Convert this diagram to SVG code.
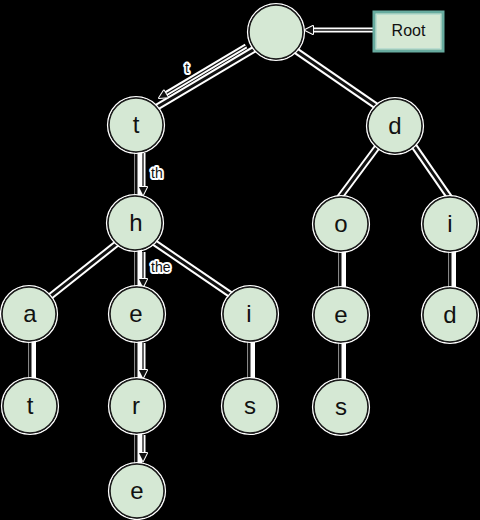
<svg xmlns="http://www.w3.org/2000/svg" width="480" height="520" viewBox="0 0 480 520">
<defs>
<style>
.halo{stroke:#ffffff;stroke-width:7;fill:none;stroke-linecap:butt}
.vhalo{stroke:#ffffff;stroke-width:8;fill:none;stroke-linecap:butt}
.ahalo{stroke:#ffffff;stroke-width:5;fill:none}
.edge{stroke:#111111;stroke-width:3;fill:none}
.arr{stroke:#111111;stroke-width:1.3;fill:none;marker-end:url(#ah)}
.ring{fill:none;stroke:#ffffff;stroke-width:1.6}
.node{fill:#d5e8d4;stroke:#1a1a1a;stroke-width:1.5}
.lbl{font-family:"Liberation Sans",Arial,sans-serif;font-size:24px;fill:#111111;text-anchor:middle}
.elbl{font-family:"Liberation Sans",Arial,sans-serif;font-size:14px;fill:#111111;stroke:#ffffff;stroke-width:4;stroke-linejoin:round;paint-order:stroke}
</style>
<marker id="ah" viewBox="-3 -3 16 16" refX="10" refY="5" markerWidth="14.4" markerHeight="12.8" markerUnits="userSpaceOnUse" orient="auto" overflow="visible">
<path d="M0,0 L10,5 L0,10 z" fill="#111111" stroke="#ffffff" stroke-width="2.5" stroke-linejoin="round" paint-order="stroke"/>
</marker>
</defs>
<rect x="0" y="0" width="480" height="520" fill="#000000"/>
<g id="connectors">
<g id="halos">
<line class="halo" x1="258" y1="47" x2="152" y2="110"/>
<line class="halo" x1="292" y1="48" x2="382" y2="110"/>
<line class="vhalo" x1="138" y1="150" x2="138" y2="198"/>
<line class="halo" x1="378" y1="146" x2="337" y2="201"/>
<line class="halo" x1="414" y1="146" x2="452" y2="201"/>
<line class="halo" x1="120" y1="241" x2="47" y2="299"/>
<line class="vhalo" x1="138" y1="248" x2="138" y2="289"/>
<line class="halo" x1="152" y1="241" x2="237" y2="299"/>
<line class="vhalo" x1="342" y1="250" x2="342" y2="290"/>
<line class="vhalo" x1="452" y1="250" x2="452" y2="290"/>
<line class="vhalo" x1="32" y1="340" x2="32" y2="381"/>
<line class="vhalo" x1="138" y1="340" x2="138" y2="381"/>
<line class="vhalo" x1="251" y1="340" x2="251" y2="381"/>
<line class="vhalo" x1="342" y1="341" x2="342" y2="382"/>
<line class="vhalo" x1="138" y1="432" x2="138" y2="466"/>
<line class="ahalo" x1="246" y1="46" x2="162" y2="96"/>
<line class="ahalo" x1="143" y1="153" x2="143" y2="191"/>
<line class="ahalo" x1="143" y1="252" x2="143" y2="283"/>
<line class="ahalo" x1="143" y1="343" x2="143" y2="374"/>
<line class="ahalo" x1="143" y1="435" x2="143" y2="457"/>
<line class="ahalo" x1="374" y1="30" x2="309" y2="30"/>
</g>
<line class="edge" x1="258" y1="47" x2="152" y2="110"/>
<line class="edge" x1="292" y1="48" x2="382" y2="110"/>
<line class="edge" x1="136" y1="150" x2="136" y2="198"/>
<line class="edge" x1="378" y1="146" x2="337" y2="201"/>
<line class="edge" x1="414" y1="146" x2="452" y2="201"/>
<line class="edge" x1="120" y1="241" x2="47" y2="299"/>
<line class="edge" x1="136" y1="248" x2="136" y2="289"/>
<line class="edge" x1="152" y1="241" x2="237" y2="299"/>
<line class="edge" x1="340" y1="250" x2="340" y2="290"/>
<line class="edge" x1="450" y1="250" x2="450" y2="290"/>
<line class="edge" x1="30" y1="340" x2="30" y2="381"/>
<line class="edge" x1="136" y1="340" x2="136" y2="381"/>
<line class="edge" x1="249" y1="340" x2="249" y2="381"/>
<line class="edge" x1="340" y1="341" x2="340" y2="382"/>
<line class="edge" x1="136" y1="432" x2="136" y2="466"/>
<line class="arr" x1="246" y1="46" x2="159" y2="98"/>
<line class="arr" x1="143" y1="153" x2="143" y2="195"/>
<line class="arr" x1="143" y1="252" x2="143" y2="287"/>
<line class="arr" x1="143" y1="343" x2="143" y2="378"/>
<line class="arr" x1="143" y1="435" x2="143" y2="461"/>
<line class="arr" x1="374" y1="30" x2="305" y2="30"/>
<text class="elbl" x="185" y="73">t</text>
<text class="elbl" x="151" y="178">th</text>
<text class="elbl" x="151" y="272">the</text>
</g>
<g id="node-root"><circle class="ring" cx="276" cy="32" r="28.3"/><circle class="node" cx="276" cy="32" r="27"/></g>
<g id="node-root-label"><rect x="374" y="12" width="69" height="39" fill="#d5e8d4" stroke="#67ab9f" stroke-width="3"/><rect x="376.5" y="14.5" width="64" height="34" fill="none" stroke="#b9dccf" stroke-width="1"/><text x="408.5" y="36" font-family="'Liberation Sans',Arial,sans-serif" font-size="16" fill="#111111" text-anchor="middle">Root</text></g>
<g id="node-t"><circle class="ring" cx="136" cy="125" r="28.3"/><circle class="node" cx="136" cy="125" r="27"/><text class="lbl" x="136" y="133">t</text></g>
<g id="node-d"><circle class="ring" cx="395" cy="126" r="28.3"/><circle class="node" cx="395" cy="126" r="27"/><text class="lbl" x="395" y="134">d</text></g>
<g id="node-th"><circle class="ring" cx="135" cy="223" r="28.3"/><circle class="node" cx="135" cy="223" r="27"/><text class="lbl" x="136" y="231">h</text></g>
<g id="node-do"><circle class="ring" cx="341" cy="224" r="28.3"/><circle class="node" cx="341" cy="224" r="27"/><text class="lbl" x="341" y="232">o</text></g>
<g id="node-di"><circle class="ring" cx="450" cy="224" r="28.3"/><circle class="node" cx="450" cy="224" r="27"/><text class="lbl" x="450" y="232">i</text></g>
<g id="node-tha"><circle class="ring" cx="29" cy="314" r="28.3"/><circle class="node" cx="29" cy="314" r="27"/><text class="lbl" x="30" y="322">a</text></g>
<g id="node-the"><circle class="ring" cx="137" cy="314" r="28.3"/><circle class="node" cx="137" cy="314" r="27"/><text class="lbl" x="136" y="322">e</text></g>
<g id="node-thi"><circle class="ring" cx="250" cy="314" r="28.3"/><circle class="node" cx="250" cy="314" r="27"/><text class="lbl" x="249" y="322">i</text></g>
<g id="node-doe"><circle class="ring" cx="341" cy="315" r="28.3"/><circle class="node" cx="341" cy="315" r="27"/><text class="lbl" x="341" y="323">e</text></g>
<g id="node-did"><circle class="ring" cx="450" cy="315" r="28.3"/><circle class="node" cx="450" cy="315" r="27"/><text class="lbl" x="450" y="323">d</text></g>
<g id="node-that"><circle class="ring" cx="30" cy="406" r="28.3"/><circle class="node" cx="30" cy="406" r="27"/><text class="lbl" x="30" y="414">t</text></g>
<g id="node-ther"><circle class="ring" cx="137" cy="406" r="28.3"/><circle class="node" cx="137" cy="406" r="27"/><text class="lbl" x="136" y="414">r</text></g>
<g id="node-this"><circle class="ring" cx="250" cy="406" r="28.3"/><circle class="node" cx="250" cy="406" r="27"/><text class="lbl" x="250" y="414">s</text></g>
<g id="node-does"><circle class="ring" cx="341" cy="407" r="28.3"/><circle class="node" cx="341" cy="407" r="27"/><text class="lbl" x="341" y="415">s</text></g>
<g id="node-there"><circle class="ring" cx="137" cy="491" r="28.3"/><circle class="node" cx="137" cy="491" r="27"/><text class="lbl" x="137" y="499">e</text></g>
</svg>
